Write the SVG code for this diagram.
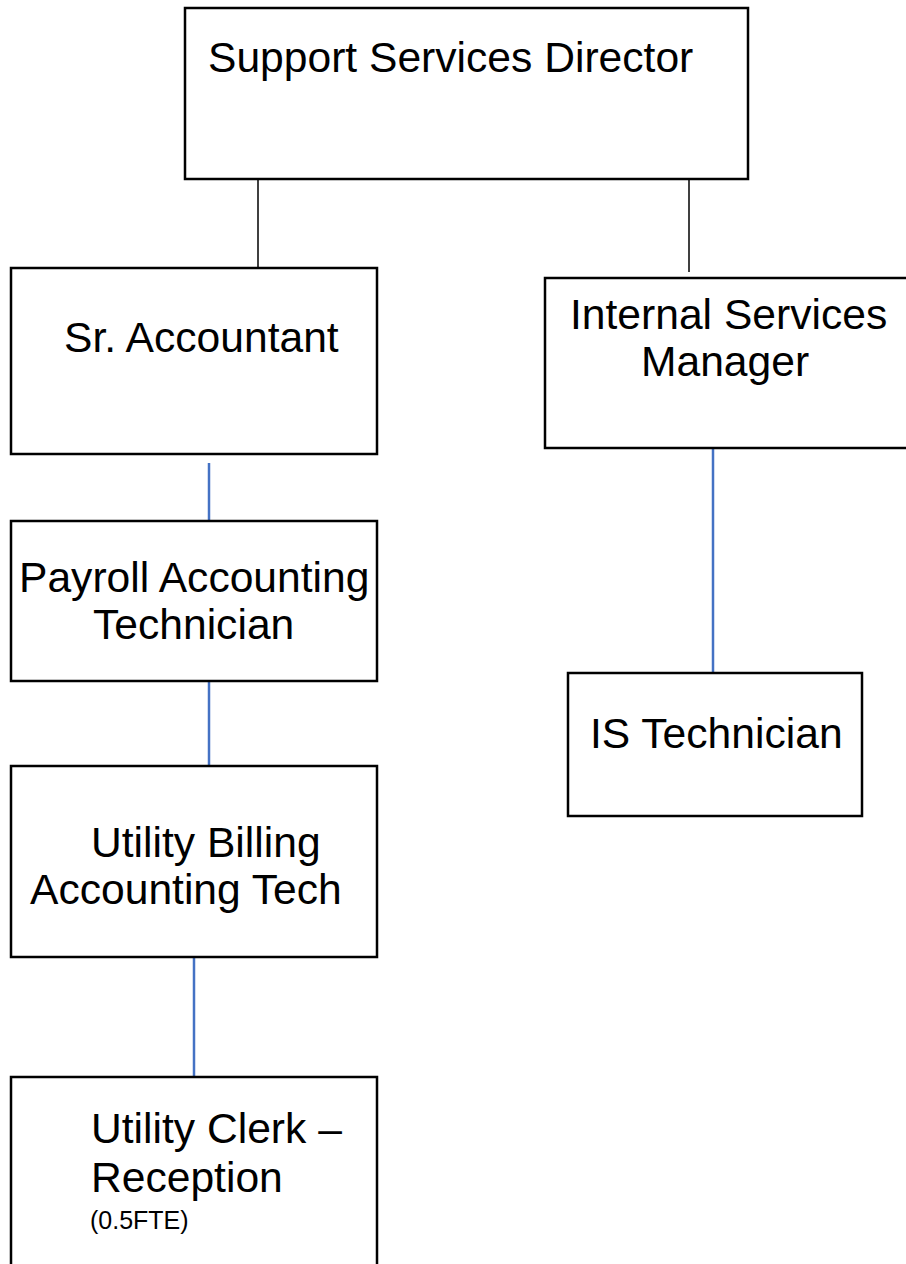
<svg xmlns="http://www.w3.org/2000/svg" width="906" height="1264" viewBox="0 0 906 1264">
<style>
.box{fill:#fff;stroke:#000;stroke-width:2.5}
.t{font-family:"Liberation Sans",Arial,sans-serif;font-size:42.6px;fill:#000}
.s{font-family:"Liberation Sans",Arial,sans-serif;font-size:25px;fill:#000}
.k{stroke:#000;stroke-width:1.5;fill:none}
.b{stroke:#4472C4;stroke-width:2.5;fill:none}
</style>
<rect width="906" height="1264" fill="#fff"/>
<g id="connectors">
<line class="k" x1="258" y1="176" x2="258" y2="272"/>
<line class="k" x1="689" y1="176" x2="689" y2="272"/>
<line class="b" x1="209" y1="463" x2="209" y2="526"/>
<line class="b" x1="209" y1="681" x2="209" y2="766"/>
<line class="b" x1="194" y1="957" x2="194" y2="1077"/>
<line class="b" x1="713" y1="440" x2="713" y2="673"/>
</g>
<g id="director">
<rect class="box" x="185" y="8" width="563" height="171"/>
<text class="t" x="208" y="72">Support Services Director</text>
</g>
<g id="sr-accountant">
<rect class="box" x="11" y="268" width="366" height="186"/>
<text class="t" x="64" y="352">Sr. Accountant</text>
</g>
<g id="internal-services-manager">
<rect class="box" x="545" y="278" width="380" height="170"/>
<text class="t" x="570" y="329">Internal Services</text>
<text class="t" x="641" y="376">Manager</text>
</g>
<g id="is-technician">
<rect class="box" x="568" y="673" width="294" height="143"/>
<text class="t" x="590" y="748">IS Technician</text>
</g>
<g id="payroll">
<rect class="box" x="11" y="521" width="366" height="160"/>
<text class="t" x="19" y="592">Payroll Accounting</text>
<text class="t" x="93" y="639">Technician</text>
</g>
<g id="utility-billing">
<rect class="box" x="11" y="766" width="366" height="191"/>
<text class="t" x="91" y="857">Utility Billing</text>
<text class="t" x="30" y="904">Accounting Tech</text>
</g>
<g id="utility-clerk">
<rect class="box" x="11" y="1077" width="366" height="220"/>
<text class="t" x="91" y="1143">Utility Clerk –</text>
<text class="t" x="91" y="1192">Reception</text>
<text class="s" x="90" y="1229">(0.5FTE)</text>
</g>
</svg>
